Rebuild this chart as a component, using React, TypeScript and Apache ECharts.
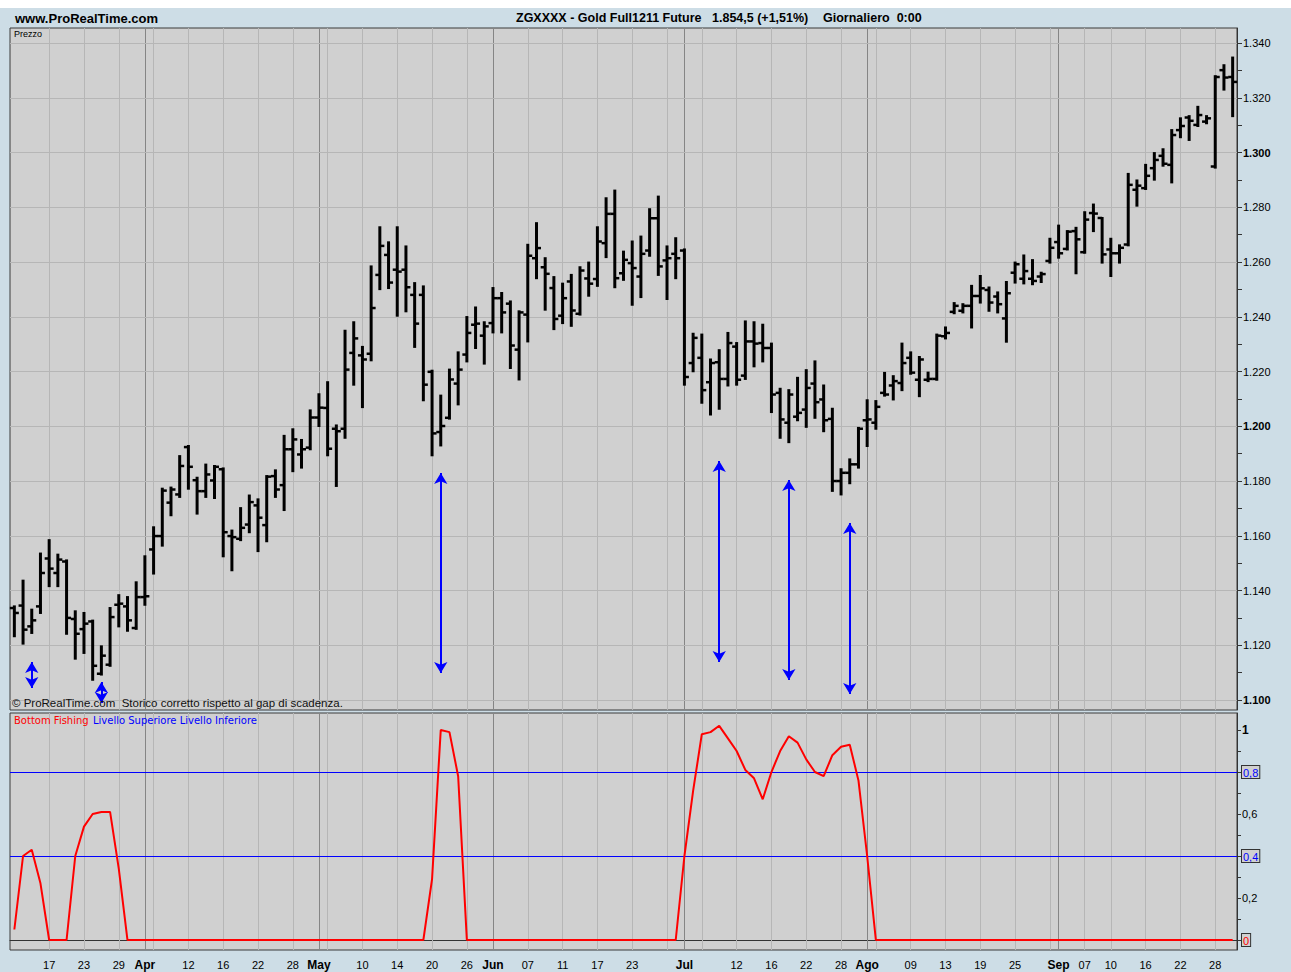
import React, { useEffect, useRef } from "react";
import * as echarts from "echarts";

// ---------- categories (trading days) ----------
const START_DATE = "2010-03-11";
const END_DATE = "2010-09-30";
const HOLIDAYS = ["2010-04-02", "2010-04-05", "2010-05-31", "2010-07-05", "2010-09-06"];

function buildTradingDays(start: string, end: string): string[] {
  const out: string[] = [];
  const d = new Date(start + "T00:00:00Z");
  const e = new Date(end + "T00:00:00Z");
  while (d.getTime() <= e.getTime()) {
    const wd = d.getUTCDay();
    const s = d.toISOString().slice(0, 10);
    if (wd !== 0 && wd !== 6 && HOLIDAYS.indexOf(s) < 0) out.push(s);
    d.setUTCDate(d.getUTCDate() + 1);
  }
  return out;
}
const dates = buildTradingDays(START_DATE, END_DATE);

// x-axis tick labels
const tickDates = [
  "2010-03-17", "2010-03-23", "2010-03-29", "2010-04-01", "2010-04-12", "2010-04-16", "2010-04-22", "2010-04-28",
  "2010-05-03", "2010-05-10", "2010-05-14", "2010-05-20", "2010-05-26", "2010-06-01", "2010-06-07", "2010-06-11",
  "2010-06-17", "2010-06-23", "2010-07-01", "2010-07-12", "2010-07-16", "2010-07-22", "2010-07-28", "2010-08-02",
  "2010-08-09", "2010-08-13", "2010-08-19", "2010-08-25", "2010-09-01", "2010-09-07", "2010-09-10", "2010-09-16",
  "2010-09-22", "2010-09-28",
];
const tickTexts = [
  "17", "23", "29", "Apr", "12", "16", "22", "28",
  "May", "10", "14", "20", "26", "Jun", "07", "11",
  "17", "23", "Jul", "12", "16", "22", "28", "Ago",
  "09", "13", "19", "25", "Sep", "07", "10", "16",
  "22", "28",
];
const monthNames = ["Apr", "May", "Jun", "Jul", "Ago", "Sep"];

// vertical grid lines (bar indices)
const lightGridIdx = [4, 8, 12, 16, 20, 24, 28, 32, 36, 40, 44, 48, 52, 59, 63, 67, 71, 75, 79, 83, 87, 91, 95, 99, 103, 107, 111, 115, 119, 123, 126, 130, 134, 138];
const monthGridIdx = [15, 35, 55, 77, 98, 120];

// ---------- price data (OHLC) ----------
const opens = [
  1133.6, 1134.5, 1126.9, 1134.2, 1151.7, 1146.4, 1150.6, 1129.6, 1125.9, 1128.7,
  1109.6, 1112.9, 1134.8, 1134.2, 1126.3, 1137.6, 1155.0, 1159.9, 1172.1, 1175.1,
  1192.4, 1180.3, 1176.3, 1180.2, 1184.3, 1159.9, 1158.9, 1164.1, 1171.1, 1163.9,
  1181.8, 1178.5, 1191.6, 1189.7, 1192.2, 1203.2, 1206.7, 1199.1, 1199.1, 1226.8,
  1225.9, 1226.5, 1255.3, 1262.6, 1257.2, 1257.2, 1248.0, 1248.0, 1219.9, 1197.9,
  1203.1, 1215.6, 1226.2, 1237.1, 1233.1, 1237.7, 1246.8, 1244.8, 1228.0, 1240.8,
  1261.4, 1258.1, 1250.5, 1240.4, 1252.9, 1241.1, 1254.0, 1253.8, 1266.9, 1277.6,
  1255.9, 1259.6, 1254.7, 1264.2, 1276.0, 1260.6, 1263.0, 1264.2, 1223.1, 1225.0,
  1216.1, 1223.4, 1217.3, 1229.1, 1218.5, 1231.0, 1230.4, 1228.6, 1212.2, 1201.3,
  1203.5, 1206.1, 1215.6, 1209.8, 1202.7, 1180.0, 1183.0, 1186.1, 1202.2, 1201.3,
  1212.2, 1214.9, 1215.8, 1225.0, 1217.0, 1217.0, 1217.3, 1232.9, 1241.8, 1242.2,
  1244.0, 1247.6, 1249.8, 1247.4, 1239.4, 1256.1, 1253.9, 1253.9, 1254.7, 1260.4,
  1267.3, 1264.8, 1271.3, 1263.6, 1277.9, 1276.1, 1264.6, 1263.2, 1266.4, 1286.4,
  1287.0, 1294.3, 1298.8, 1295.5, 1308.2, 1312.8, 1310.1, 1311.3, 1294.9, 1330.1,
  1327.6,
];
const highs = [
  1134.2, 1143.6, 1133.0, 1153.5, 1158.4, 1153.1, 1151.0, 1132.4, 1131.8, 1129.0,
  1119.6, 1133.6, 1138.3, 1137.6, 1143.0, 1152.5, 1163.1, 1177.2, 1177.6, 1189.1,
  1192.8, 1181.2, 1186.0, 1185.5, 1184.6, 1161.9, 1170.1, 1174.7, 1173.3, 1181.8,
  1183.9, 1196.5, 1198.9, 1195.0, 1205.8, 1211.7, 1216.1, 1200.3, 1234.9, 1238.0,
  1229.0, 1258.4, 1272.7, 1267.2, 1272.7, 1265.7, 1252.3, 1251.1, 1220.3, 1211.2,
  1220.7, 1227.0, 1239.9, 1243.4, 1238.0, 1250.5, 1248.7, 1245.6, 1242.0, 1266.3,
  1274.2, 1261.4, 1254.5, 1252.1, 1255.3, 1258.1, 1259.8, 1272.7, 1283.3, 1286.1,
  1263.8, 1267.5, 1269.3, 1279.3, 1283.9, 1265.7, 1268.7, 1264.6, 1233.8, 1233.5,
  1224.4, 1227.8, 1234.1, 1230.4, 1238.3, 1238.0, 1237.1, 1230.2, 1213.7, 1213.2,
  1217.7, 1220.5, 1223.7, 1214.9, 1206.4, 1184.3, 1187.9, 1199.4, 1209.5, 1209.2,
  1219.5, 1218.3, 1230.2, 1227.0, 1225.3, 1219.6, 1233.5, 1236.1, 1245.0, 1244.6,
  1251.3, 1254.9, 1250.7, 1248.9, 1252.7, 1259.8, 1262.4, 1260.7, 1256.1, 1268.5,
  1273.3, 1271.3, 1272.5, 1278.2, 1281.0, 1276.1, 1268.5, 1266.1, 1292.2, 1289.8,
  1295.5, 1299.8, 1301.2, 1308.2, 1312.5, 1313.3, 1316.7, 1313.3, 1327.9, 1331.9,
  1334.7,
];
const lows = [
  1123.3, 1120.6, 1124.5, 1131.8, 1141.6, 1141.6, 1124.2, 1115.1, 1117.2, 1107.4,
  1109.3, 1112.5, 1126.9, 1125.3, 1126.0, 1134.8, 1146.2, 1156.4, 1167.5, 1174.2,
  1177.2, 1168.1, 1174.2, 1173.8, 1152.5, 1147.4, 1158.4, 1161.3, 1154.4, 1158.0,
  1174.2, 1169.4, 1183.6, 1184.9, 1191.6, 1200.1, 1189.4, 1178.2, 1195.8, 1215.2,
  1207.0, 1224.1, 1250.1, 1250.5, 1240.4, 1242.0, 1229.0, 1209.5, 1189.4, 1193.0,
  1202.8, 1208.0, 1223.7, 1228.6, 1222.9, 1234.3, 1234.3, 1221.3, 1217.1, 1231.0,
  1254.1, 1242.6, 1235.5, 1237.7, 1236.7, 1240.8, 1247.7, 1251.3, 1261.8, 1250.8,
  1253.5, 1244.4, 1247.2, 1262.3, 1255.3, 1246.5, 1254.1, 1215.2, 1220.1, 1208.6,
  1204.3, 1206.4, 1214.9, 1215.2, 1217.3, 1221.9, 1223.7, 1205.2, 1195.8, 1194.2,
  1202.2, 1199.8, 1203.1, 1198.2, 1176.4, 1175.1, 1179.2, 1184.9, 1192.8, 1199.1,
  1211.2, 1209.8, 1213.2, 1219.2, 1211.0, 1216.5, 1217.0, 1232.1, 1241.3, 1241.6,
  1236.1, 1245.2, 1242.2, 1241.6, 1230.9, 1252.5, 1252.2, 1251.9, 1252.7, 1259.8,
  1261.6, 1264.6, 1255.9, 1263.4, 1271.3, 1259.8, 1254.9, 1259.8, 1266.1, 1280.6,
  1286.7, 1290.1, 1295.2, 1289.1, 1305.6, 1304.6, 1309.7, 1310.7, 1294.5, 1323.0,
  1313.3,
];
const closes = [
  1131.8, 1125.7, 1129.1, 1146.4, 1148.0, 1151.3, 1130.0, 1124.2, 1127.9, 1112.5,
  1116.2, 1130.3, 1135.2, 1129.1, 1137.6, 1137.9, 1159.9, 1176.5, 1176.9, 1185.5,
  1185.2, 1176.3, 1182.4, 1185.2, 1161.3, 1159.5, 1162.9, 1172.3, 1166.6, 1181.6,
  1176.9, 1191.6, 1195.2, 1191.6, 1203.2, 1206.8, 1191.8, 1198.2, 1220.7, 1232.1,
  1224.4, 1243.2, 1265.9, 1252.5, 1256.5, 1250.8, 1237.5, 1215.2, 1197.4, 1200.1,
  1217.1, 1220.7, 1234.1, 1237.5, 1236.5, 1246.8, 1241.6, 1229.5, 1241.6, 1262.3,
  1265.1, 1255.7, 1239.2, 1246.8, 1242.3, 1256.9, 1252.1, 1267.5, 1277.6, 1254.1,
  1260.8, 1257.8, 1263.0, 1276.0, 1258.4, 1261.4, 1261.4, 1218.0, 1232.3, 1213.2,
  1223.1, 1217.3, 1230.4, 1217.0, 1231.0, 1230.2, 1228.6, 1211.6, 1202.5, 1211.6,
  1204.9, 1214.0, 1208.8, 1202.2, 1180.0, 1183.0, 1186.1, 1199.1, 1202.5, 1207.1,
  1211.6, 1216.5, 1223.1, 1219.6, 1224.4, 1217.3, 1233.1, 1234.1, 1244.0, 1244.0,
  1247.6, 1250.4, 1245.2, 1244.6, 1248.6, 1259.2, 1256.7, 1253.1, 1255.6, 1265.2,
  1263.2, 1271.1, 1268.3, 1275.5, 1277.7, 1262.8, 1263.2, 1265.2, 1288.2, 1287.9,
  1291.5, 1297.3, 1295.9, 1306.4, 1309.7, 1311.6, 1313.7, 1312.5, 1327.6, 1327.4,
  1325.8,
];

// blue double arrows (bar index, top, bottom)
const arrowIdx = [2, 10, 49, 81, 89, 96];
const arrowTop = [1113.9, 1106.6, 1182.9, 1187.3, 1180.4, 1164.7];
const arrowBottom = [1104.4, 1098.9, 1109.9, 1113.9, 1107.3, 1102.2];

// price axis ticks
const priceLabelValues = [1100, 1120, 1140, 1160, 1180, 1200, 1220, 1240, 1260, 1280, 1300, 1320, 1340];
const priceTickValues = [1100, 1110, 1120, 1130, 1140, 1150, 1160, 1170, 1180, 1190, 1200, 1210, 1220, 1230, 1240, 1250, 1260, 1270, 1280, 1290, 1300, 1310, 1320, 1330, 1340];
const priceBoldValues = [1100, 1200, 1300];

// ---------- indicator ----------
const bottomFishing = [
  0.05, 0.40, 0.43, 0.27, 0, 0, 0, 0.40, 0.54, 0.60,
  0.61, 0.61, 0.34, 0, 0, 0, 0, 0, 0, 0,
  0, 0, 0, 0, 0, 0, 0, 0, 0, 0,
  0, 0, 0, 0, 0, 0, 0, 0, 0, 0,
  0, 0, 0, 0, 0, 0, 0, 0, 0.29, 1.00,
  0.99, 0.78, 0, 0, 0, 0, 0, 0, 0, 0,
  0, 0, 0, 0, 0, 0, 0, 0, 0, 0,
  0, 0, 0, 0, 0, 0, 0, 0.40, 0.71, 0.98,
  0.99, 1.02, 0.96, 0.90, 0.81, 0.77, 0.67, 0.80, 0.90, 0.97,
  0.94, 0.86, 0.80, 0.78, 0.88, 0.92, 0.93, 0.76, 0.40, 0,
  0, 0, 0, 0, 0, 0, 0, 0, 0, 0,
  0, 0, 0, 0, 0, 0, 0, 0, 0, 0,
  0, 0, 0, 0, 0, 0, 0, 0, 0, 0,
  0, 0, 0, 0, 0, 0, 0, 0, 0, 0,
  0,
];
const upperLevel = 0.8;
const lowerLevel = 0.4;
const indLabelValues = [0, 0.2, 0.4, 0.6, 0.8, 1];
const indTickValues = [0, 0.1, 0.2, 0.3, 0.4, 0.5, 0.6, 0.7, 0.8, 0.9, 1];

// ---------- styling ----------
const FONT = '"Liberation Sans", Arial, sans-serif';
const BG = "#cddde6";
const PLOT_BG = "#d0d0d0";
const GRID_LIGHT = "#b6b6b6";
const GRID_DARK = "#858585";

const labelMap: Record<string, string> = {};
tickDates.forEach((d, i) => (labelMap[d] = tickTexts[i]));
const isTick = (_i: number, v: string) => labelMap[v] !== undefined;

function verticalGridData() {
  const light = lightGridIdx.map((i) => ({ xAxis: dates[i], lineStyle: { color: GRID_LIGHT, width: 1, type: "solid" } }));
  const dark = monthGridIdx.map((i) => ({ xAxis: dates[i], lineStyle: { color: GRID_DARK, width: 1, type: "solid" } }));
  return [...light, ...dark];
}

function buildOption(): any {
  const ohlc = dates.map((_, i) => [i, opens[i], highs[i], lows[i], closes[i]]);
  return {
    animation: false,
    backgroundColor: BG,
    textStyle: { fontFamily: FONT },
    grid: [
      { left: 10, right: 54, top: 28, height: 682, show: true, backgroundColor: PLOT_BG, borderColor: "#3a3a3a", borderWidth: 1, containLabel: false, outerBoundsMode: "none" },
      { left: 10, right: 54, top: 713, height: 237, show: true, backgroundColor: PLOT_BG, borderColor: "#3a3a3a", borderWidth: 1, containLabel: false, outerBoundsMode: "none" },
    ],
    xAxis: [
      { gridIndex: 0, type: "category", data: dates, boundaryGap: true, show: false },
      {
        gridIndex: 1,
        type: "category",
        data: dates,
        boundaryGap: true,
        axisLine: { show: true, lineStyle: { color: "#333" } },
        axisTick: { show: true, alignWithLabel: true, interval: isTick, length: 5, lineStyle: { color: "#333" } },
        axisLabel: {
          interval: isTick,
          margin: 9,
          fontSize: 11,
          color: "#000",
          fontFamily: FONT,
          formatter: (v: string) => {
            const t = labelMap[v] || "";
            return monthNames.indexOf(t) >= 0 ? "{m|" + t + "}" : t;
          },
          rich: { m: { fontWeight: "bold", fontSize: 12, color: "#000", fontFamily: FONT } },
        },
        splitLine: { show: false },
      },
    ],
    yAxis: [
      {
        gridIndex: 0,
        type: "value",
        position: "right",
        min: 1096.35,
        max: 1345.5,
        axisLine: { show: true, lineStyle: { color: "#333" } },
        axisTick: { show: true, customValues: priceTickValues, length: 5, lineStyle: { color: "#333" } },
        axisLabel: {
          customValues: priceLabelValues,
          margin: 6,
          fontSize: 11,
          color: "#000",
          fontFamily: FONT,
          formatter: (v: number) => {
            const s = (v / 1000).toFixed(3);
            return priceBoldValues.indexOf(Math.round(v)) >= 0 ? "{b|" + s + "}" : s;
          },
          rich: { b: { fontWeight: "bold", fontSize: 11, color: "#000", fontFamily: FONT } },
        },
        splitLine: { show: false },
      },
      {
        gridIndex: 1,
        type: "value",
        position: "right",
        min: -0.0476,
        max: 1.081,
        axisLine: { show: true, lineStyle: { color: "#333" } },
        axisTick: { show: true, customValues: indTickValues, length: 4, lineStyle: { color: "#333" } },
        axisLabel: {
          customValues: indLabelValues,
          margin: 5,
          fontSize: 11,
          color: "#000",
          fontFamily: FONT,
          formatter: (v: number) => {
            const r = Math.round(v * 10) / 10;
            const s = String(r).replace(".", ",");
            if (r === 1) return "{b|1}";
            if (r === upperLevel || r === lowerLevel) return "{bl|" + s + "}";
            if (r === 0) return "{rd|0}";
            return s;
          },
          rich: {
            b: { fontWeight: "bold", fontSize: 12, color: "#000", fontFamily: FONT },
            bl: { color: "#0000ff", fontSize: 11, backgroundColor: PLOT_BG, borderColor: "#333", borderWidth: 1, padding: [1, 1, 0, 1], fontFamily: FONT },
            rd: { color: "#ff0000", fontSize: 11, backgroundColor: PLOT_BG, borderColor: "#333", borderWidth: 1, padding: [1, 1, 0, 1], fontFamily: FONT },
          },
        },
        splitLine: { show: false },
      },
    ],
    series: [
      {
        name: "grid0",
        type: "line",
        xAxisIndex: 0,
        yAxisIndex: 0,
        data: [],
        z: 1,
        silent: true,
        markLine: {
          silent: true,
          symbol: ["none", "none"],
          label: { show: false },
          emphasis: { disabled: true },
          data: [
            ...verticalGridData(),
            ...priceLabelValues.map((v) => ({ yAxis: v, lineStyle: { color: GRID_LIGHT, width: 1, type: "solid" } })),
          ],
        },
      },
      {
        name: "Prezzo",
        type: "custom",
        xAxisIndex: 0,
        yAxisIndex: 0,
        z: 5,
        data: ohlc,
        encode: { x: 0, y: [1, 2, 3, 4] },
        renderItem: (_params: any, api: any) => {
          const x = api.value(0);
          const o = api.coord([x, api.value(1)]);
          const h = api.coord([x, api.value(2)]);
          const l = api.coord([x, api.value(3)]);
          const c = api.coord([x, api.value(4)]);
          const st = { stroke: "#000", lineWidth: 3 };
          return {
            type: "group",
            children: [
              { type: "line", shape: { x1: h[0], y1: h[1] - 1, x2: l[0], y2: l[1] + 1 }, style: st },
              { type: "line", shape: { x1: o[0] - 4.5, y1: o[1], x2: o[0], y2: o[1] }, style: { stroke: "#000", lineWidth: 2.5 } },
              { type: "line", shape: { x1: c[0], y1: c[1], x2: c[0] + 4.5, y2: c[1] }, style: { stroke: "#000", lineWidth: 2.5 } },
            ],
          };
        },
      },
      {
        name: "arrows",
        type: "line",
        xAxisIndex: 0,
        yAxisIndex: 0,
        data: [],
        z: 6,
        markLine: {
          silent: true,
          symbol: ["arrow", "arrow"],
          symbolSize: [10, 11],
          label: { show: false },
          lineStyle: { color: "#0000ff", width: 2, type: "solid" },
          itemStyle: { color: "#0000ff" },
          data: arrowIdx.map((idx, k) => [
            { coord: [dates[idx], arrowTop[k]] },
            { coord: [dates[idx], arrowBottom[k]] },
          ]),
        },
      },
      {
        name: "grid1",
        type: "line",
        xAxisIndex: 1,
        yAxisIndex: 1,
        data: [],
        z: 1,
        markLine: {
          silent: true,
          symbol: ["none", "none"],
          label: { show: false },
          data: [
            ...verticalGridData(),
            { yAxis: upperLevel, lineStyle: { color: "#0000ff", width: 1, type: "solid" } },
            { yAxis: lowerLevel, lineStyle: { color: "#0000ff", width: 1, type: "solid" } },
          ],
        },
      },
      {
        name: "Bottom Fishing",
        type: "line",
        xAxisIndex: 1,
        yAxisIndex: 1,
        z: 5,
        data: bottomFishing,
        showSymbol: false,
        symbol: "none",
        lineStyle: { color: "#ff0000", width: 2 },
      },
    ],
    graphic: [
      { type: "rect", z: 50, shape: { x: 0, y: 0, width: 1291, height: 8 }, style: { fill: "#ffffff" } },
      { type: "text", z: 50, x: 15, y: 18, style: { text: "www.ProRealTime.com", font: "bold 13px " + FONT, fill: "#000", verticalAlign: "middle" } },
      { type: "text", z: 50, x: 516, y: 18, style: { text: "ZGXXXX - Gold Full1211 Future", font: "bold 12.5px " + FONT, fill: "#000", verticalAlign: "middle" } },
      { type: "text", z: 50, x: 712, y: 18, style: { text: "1.854,5 (+1,51%)", font: "bold 12.5px " + FONT, fill: "#000", verticalAlign: "middle" } },
      { type: "text", z: 50, x: 823, y: 18, style: { text: "Giornaliero  0:00", font: "bold 12.5px " + FONT, fill: "#000", verticalAlign: "middle" } },
      { type: "text", z: 50, x: 14, y: 34, style: { text: "Prezzo", font: "9px " + FONT, fill: "#000", verticalAlign: "middle" } },
      { type: "text", z: 50, x: 12, y: 703, style: { text: "\u00a9 ProRealTime.com  Storico corretto rispetto al gap di scadenza.", font: "11.5px " + FONT, fill: "#111", verticalAlign: "middle" } },
      { type: "text", z: 50, x: 14, y: 720, style: { text: "Bottom Fishing", font: '10px "DejaVu Sans", Verdana, sans-serif', fill: "#ff0000", verticalAlign: "middle" } },
      { type: "text", z: 50, x: 93, y: 720, style: { text: "Livello Superiore Livello Inferiore", font: '10px "DejaVu Sans", Verdana, sans-serif', fill: "#0000ff", verticalAlign: "middle" } },
    ],
  };
}

export default function App() {
  const ref = useRef<HTMLDivElement>(null);
  useEffect(() => {
    document.body.style.margin = "0";
    const chart = echarts.init(ref.current as HTMLDivElement, null, { renderer: "svg" });
    chart.setOption(buildOption());
    return () => chart.dispose();
  }, []);
  return <div ref={ref} style={{ position: "absolute", left: 0, top: 0, width: 1291, height: 972 }} />;
}
